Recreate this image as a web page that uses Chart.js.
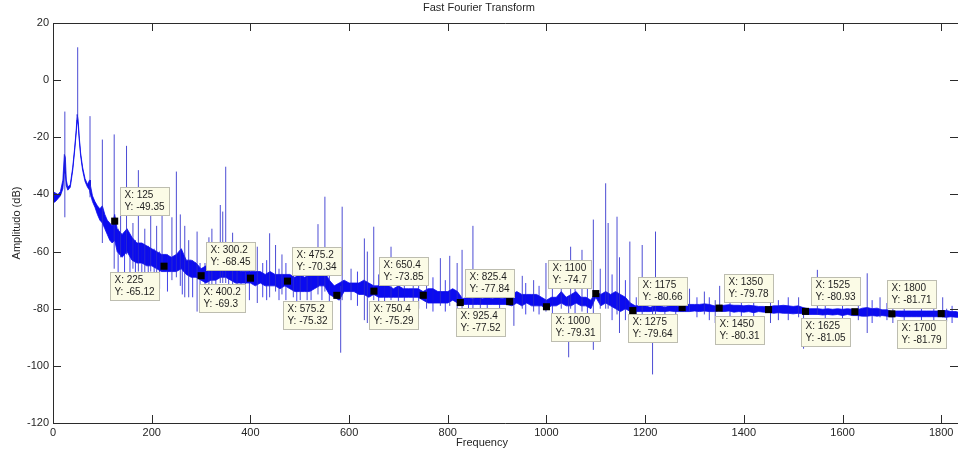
<!DOCTYPE html>
<html>
<head>
<meta charset="utf-8">
<title>Fast Fourier Transform</title>
<script src="https://cdn.jsdelivr.net/npm/chart.js@4.4.1/dist/chart.umd.min.js"></script>
<style>
  html, body { margin: 0; padding: 0; background: #fff; }
  #wrap { width: 958px; height: 454px; position: relative; }
</style>
</head>
<body>
<div id="wrap"><canvas id="chartFFT"></canvas></div>
<script>
// Ejes
const X_TICKS = [0, 200, 400, 600, 800, 1000, 1200, 1400, 1600, 1800];
const Y_TICKS = [-120, -100, -80, -60, -40, -20, 0, 20];
const X_MAX = 1834;

// Espectro: banda de ruido (borde superior / inferior) en dB
const bandFreq = [
  0, 5, 10, 15, 20, 23, 25, 27, 30, 35, 40, 44, 47, 49, 50, 51, 53, 56, 60, 65,
  70, 74, 75, 76, 80, 85, 90, 95, 100, 105, 110, 115, 120, 125,
  130, 140, 150, 160, 170, 180, 190,
  200, 210, 220, 230, 240, 250, 260, 270, 280, 290,
  300, 310, 320, 330, 340, 350, 360, 370, 380, 390,
  400, 410, 420, 430, 440, 450, 460, 470, 480, 490,
  500, 510, 520, 530, 540, 550, 560, 570, 580, 590,
  600, 610, 620, 630, 640, 650, 660, 670, 680, 690,
  700, 710, 720, 730, 740, 750, 760, 770, 780, 790,
  800, 810, 820, 830, 840, 850, 860, 870, 880, 890,
  900, 910, 920, 930, 940, 950, 960, 970, 980, 990,
  1000, 1010, 1020, 1030, 1040, 1050, 1060, 1070, 1080, 1090,
  1100, 1110, 1120, 1130, 1140, 1150, 1160, 1170, 1180, 1190,
  1200, 1210, 1220, 1230, 1240, 1250, 1260, 1270, 1280, 1290,
  1300, 1310, 1320, 1330, 1340, 1350, 1360, 1370, 1380, 1390,
  1400, 1410, 1420, 1430, 1440, 1450, 1460, 1470, 1480, 1490,
  1500, 1510, 1520, 1530, 1540, 1550, 1560, 1570, 1580, 1590,
  1600, 1610, 1620, 1630, 1640, 1650, 1660, 1670, 1680, 1690,
  1700, 1710, 1720, 1730, 1740, 1750, 1760, 1770, 1780, 1790,
  1800, 1810, 1820, 1830, 1834
];
const bandHigh = [
  -39, -39.5, -40, -39, -35, -26, -27, -35, -37.5, -36.5, -30.5, -23.5, -17.5, -12, -12, -14, -19.5, -25.5, -30.5, -34.5,
  -36.5, -35, -35, -37, -40.5, -42.5, -44, -45, -44, -47, -49, -50, -51, -47,
  -52, -54, -52, -55, -57, -57, -58,
  -59, -60, -61, -61, -62, -61, -59, -63, -63, -64,
  -66, -65, -66, -66, -64, -64, -66, -66, -67, -67,
  -67, -67, -67, -68, -67, -68, -68, -68, -68, -69,
  -68, -69, -68, -68, -67, -67, -70, -72, -71, -70,
  -71, -71, -71, -70, -71, -72, -72, -72, -72, -73,
  -72, -73, -73, -73, -73, -74, -73, -73, -74, -74,
  -74, -73, -74, -76.5, -76, -76.5, -76, -76.5, -76, -76.5,
  -76, -76.5, -76, -75, -74, -75, -75, -75, -75, -76,
  -77, -76, -76, -74, -76, -75, -74, -76, -76, -77,
  -74, -75, -74, -75, -74, -75, -76, -78, -79, -79,
  -79, -79.5, -79, -79, -79.5, -79, -79, -79.2, -78.5, -78.5,
  -78.5, -78.5, -78.3, -78.5, -79, -79, -78.8, -78.6, -78.8, -78.8,
  -79, -78.8, -79, -79.2, -79.2, -79.4, -79, -79, -78.8, -79,
  -79.2, -79, -79.6, -80, -80, -80, -80.2, -80, -80.2, -80,
  -80.2, -80, -80.2, -80.4, -79.8, -79.6, -80, -79.8, -80.4, -80.4,
  -81, -80.8, -80.8, -80.8, -80.8, -80.8, -80.8, -80.8, -80.8, -80.8,
  -80.8, -80.6, -81, -81, -81.2
];
const bandLow = [
  -43, -42.5, -41.5, -40.5, -38, -32, -33, -37, -38.5, -37.5, -31.5, -24.5, -18.5, -14, -14, -15.5, -20.5, -26.5, -31.5, -35.5,
  -37.5, -38.5, -39.5, -40, -42.5, -44.5, -47, -49, -50, -52, -54, -56, -57, -56,
  -60, -62, -60, -63, -64, -64, -65,
  -65, -66, -67, -67, -67, -67, -66, -68, -69, -69,
  -70, -71, -70, -70, -69, -69, -70, -71, -71, -71,
  -71, -72, -71, -72, -72, -72, -73, -72, -73, -74,
  -74, -74, -74, -73, -72, -72, -75, -76, -77, -74,
  -74, -74, -75, -75, -76, -75, -76, -76, -76, -76,
  -76, -76, -76, -76, -76, -77, -78, -78, -78, -78,
  -78, -77, -78, -78.5, -78.5, -78.5, -78.5, -78.5, -78.5, -78.5,
  -78.5, -78.5, -78.5, -79, -78, -79, -78, -79, -79, -79,
  -80, -79, -79, -78, -79, -79, -78, -79, -79, -80,
  -76, -79, -78, -79, -80, -81, -80, -81, -81, -81,
  -81, -81, -80.8, -81, -81, -80.8, -81, -81, -81, -81,
  -80.8, -81, -80.8, -81, -81, -80.8, -81, -80.8, -81.2, -81,
  -81.2, -81, -81.4, -81, -81.2, -81.2, -81.6, -81.4, -81.6, -81.6,
  -81.8, -81.6, -81.8, -82, -82, -82, -82.2, -82, -82.2, -82,
  -82.4, -82, -82.4, -82.4, -82.6, -82.6, -82.4, -82.6, -82.4, -82.6,
  -82.8, -82.6, -82.8, -82.8, -82.8, -82.8, -82.8, -82.8, -82.8, -82.8,
  -82.8, -83, -82.8, -83, -83
];

// Picos (armonicos) que salen de la banda
const spikeFreq = [
  24, 50, 75, 100, 124, 137, 149, 162, 173, 186, 198, 210, 221, 241, 250, 258, 267, 275, 292,
  316, 322, 339, 344, 350, 364, 373, 390, 414, 439, 451, 464, 487, 501, 515, 537, 551, 583, 586,
  604, 631, 637, 650, 685, 700, 730, 757, 785, 804, 819, 829, 851, 866, 934, 951, 974, 999,
  1030, 1045, 1049, 1072, 1095, 1109, 1120, 1125, 1143, 1148, 1169, 1194, 1215, 1221,
  1290, 1320, 1342, 1351, 1454, 1511, 1521, 1549, 1650, 1676, 1702, 1803, 1811
];
const spikeTop = [
  -11, 11.5, -12.6, -20.8, -19, -42, -23, -50, -31.5, -52, -40, -51, -46.5, -48, -32, -47, -51, -56, -53,
  -55, -52, -43.7, -46, -30.3, -53.4, -57, -62, -58.3, -53.6, -57.7, -61, -64, -63, -64, -50.4, -40.8, -72, -44.3,
  -66, -55.4, -60, -51.3, -58.3, -67, -68, -65, -62.3, -61.5, -64, -59.4, -51, -74, -74, -68.5, -70, -64,
  -70, -76, -58.3, -59.4, -48.8, -66, -36.1, -50, -47.8, -62, -56.5, -57.7, -76, -53,
  -73, -74, -77, -72, -78, -76, -80, -66.4, -67.6, -76, -80, -76, -80
];
const spikeBottom = [
  -48, -14, -41, -57, -66, -62, -61, -66, -67, -68, -67, -68, -67, -70, -69, -72, -76, -76, -81,
  -72, -72, -71, -71, -71, -72, -74, -74, -78, -76, -74, -75, -76, -77, -77, -75, -74, -95.4, -77,
  -77, -84, -85, -77, -77, -78, -78, -80, -79, -79, -80, -82, -80, -80, -86, -80, -81, -81,
  -80, -97, -80, -81, -94.4, -80, -80, -80, -82, -88.5, -82, -82, -103, -82,
  -81, -82, -85, -81, -85, -83, -94, -82, -88.5, -83, -85, -83, -84.5
];

// Rayitas cortas del ruido
const grassFreq = [
  132, 145, 156, 167, 180, 193, 205, 216, 232, 262, 283, 298,
  308, 330, 356, 381, 398, 425, 433, 458, 472, 494, 523, 545, 560,
  617, 660, 672, 712, 741, 770, 795, 842, 880, 905, 958, 985,
  1012, 1058, 1083, 1133, 1160, 1182,
  1240, 1262, 1305, 1330, 1372, 1395, 1420, 1470, 1490, 1565, 1600, 1632, 1660, 1690, 1725, 1760, 1785, 1822
];
const grassTop = [
  -52, -54, -55, -56, -57, -58, -59, -60, -61, -62, -63, -64,
  -64, -63, -62, -64, -65, -64, -63, -66, -64, -65, -64, -62, -66,
  -67, -68, -66, -68, -69, -69, -70, -72, -73, -73, -71, -72,
  -73, -70, -71, -68, -70, -76,
  -77, -77, -76, -76, -77, -77, -77, -77, -76, -78, -78, -77, -77, -78, -79, -79, -78, -79
];
const grassBottom = [
  -68, -70, -71, -72, -70, -72, -72, -73, -74, -75, -76, -79,
  -74, -75, -74, -76, -77, -76, -77, -77, -77, -78, -77, -77, -79,
  -79, -80, -79, -79, -80, -81, -81, -80, -80, -81, -82, -82,
  -83, -82, -82, -84, -84, -84,
  -83, -83, -83, -84, -83, -84, -84, -84, -84, -84, -85, -84, -85, -84, -84, -85, -85, -85
];

// Data tips
const tipX = [125, 225, 300.2, 400.2, 475.2, 575.2, 650.4, 750.4, 825.4, 925.4,
  1000, 1100, 1175, 1275, 1350, 1450, 1525, 1625, 1700, 1800];
const tipY = [-49.35, -65.12, -68.45, -69.3, -70.34, -75.32, -73.85, -75.29, -77.84, -77.52,
  -79.31, -74.7, -80.66, -79.64, -79.78, -80.31, -80.93, -81.05, -81.79, -81.71];
const tipSide = ['ur', 'll', 'ur', 'll', 'ur', 'll', 'ur', 'll', 'ur', 'll',
  'lr', 'ul', 'ur', 'll', 'ur', 'll', 'ur', 'll', 'lr', 'ul'];

const FONT = '"Liberation Sans Narrow", "Arial Narrow", "Liberation Sans", Arial, sans-serif';
const TIP_FONT = '10px "Liberation Sans", Arial, sans-serif';
const AXIS_COLOR = '#2b2b2b';
const TICK_LEN = 8;

const el = (id) => document.getElementById(id);
const toPoints = (xs, ys) => xs.map((x, i) => ({ x, y: ys[i] }));

// cada pico: de abajo a arriba y luego un hueco
const toSegments = (fs, tops, bottoms) => fs.flatMap((f, i) => [
  { x: f, y: bottoms[i] },
  { x: f, y: tops[i] },
  { x: f, y: null }
]);

// caja tipo matlab con ticks hacia dentro, etiqueta X y data tips
const matlabAxes = {
  id: 'matlabAxes',
  afterDraw(chart) {
    const { ctx, chartArea: { left, right, top, bottom }, scales: { x, y } } = chart;
    ctx.save();
    ctx.strokeStyle = AXIS_COLOR;
    ctx.lineWidth = 1;
    ctx.beginPath();
    ctx.moveTo(right, top + 0.5);
    ctx.lineTo(left + 0.5, top + 0.5);
    ctx.lineTo(left + 0.5, bottom + 0.5);
    ctx.lineTo(right, bottom + 0.5);
    X_TICKS.forEach(v => {
      const px = Math.round(x.getPixelForValue(v)) + 0.5;
      ctx.moveTo(px, bottom); ctx.lineTo(px, bottom - TICK_LEN);
      ctx.moveTo(px, top); ctx.lineTo(px, top + TICK_LEN);
    });
    Y_TICKS.forEach(v => {
      const py = Math.round(y.getPixelForValue(v)) + 0.5;
      ctx.moveTo(left, py); ctx.lineTo(left + TICK_LEN, py);
      ctx.moveTo(right, py); ctx.lineTo(right - TICK_LEN, py);
    });
    ctx.stroke();

    ctx.fillStyle = '#262626';
    ctx.font = '11px ' + FONT;
    ctx.textAlign = 'center';
    ctx.textBaseline = 'middle';
    ctx.fillText('Frequency', 482, 443);

    // data tips
    ctx.font = TIP_FONT;
    tipX.forEach((fx, i) => {
      const mx = x.getPixelForValue(fx);
      const my = y.getPixelForValue(tipY[i]);
      const lines = [`X: ${fx}`, `Y: ${tipY[i]}`];
      const w = Math.ceil(Math.max(...lines.map(t => ctx.measureText(t).width))) + 8;
      const h = 28;
      const side = tipSide[i];
      const bx = Math.round(side[1] === 'r' ? mx + 5 : mx - 5 - w) + 0.5;
      const by = Math.round(side[0] === 'u' ? my - 6 - h : my + 6) + 0.5;
      ctx.fillStyle = '#fbfbe6';
      ctx.strokeStyle = '#bdbdb0';
      ctx.fillRect(bx, by, w, h);
      ctx.strokeRect(bx, by, w, h);
      ctx.fillStyle = '#1e1e1e';
      ctx.textAlign = 'left';
      ctx.fillText(lines[0], bx + 4, by + 8);
      ctx.fillText(lines[1], bx + 4, by + 20);
    });
    ctx.restore();
  }
};

const buildChart = () => {
  const ctx = el('chartFFT').getContext('2d');
  return new Chart(ctx, {
    type: 'line',
    data: {
      datasets: [
        {
          label: 'tips',
          type: 'scatter',
          order: 0,
          data: toPoints(tipX, tipY),
          pointStyle: 'rect',
          pointRadius: 5,
          pointBackgroundColor: '#000',
          pointBorderWidth: 0,
          showLine: false
        },
        {
          label: 'band high',
          order: 3,
          data: toPoints(bandFreq, bandHigh),
          borderColor: '#0b0bef',
          backgroundColor: '#0b0bef',
          borderWidth: 0.8,
          pointRadius: 0,
          tension: 0,
          fill: '+1'
        },
        {
          label: 'band low',
          order: 3,
          data: toPoints(bandFreq, bandLow),
          borderColor: '#0b0bef',
          borderWidth: 0.8,
          pointRadius: 0,
          tension: 0,
          fill: false
        },
        {
          label: 'spikes',
          order: 1,
          data: toSegments(spikeFreq, spikeTop, spikeBottom),
          borderColor: 'rgba(45, 45, 205, 0.85)',
          borderWidth: 1,
          pointRadius: 0,
          spanGaps: false,
          fill: false
        },
        {
          label: 'grass',
          order: 2,
          data: toSegments(grassFreq, grassTop, grassBottom),
          borderColor: 'rgba(20, 20, 225, 0.8)',
          borderWidth: 1,
          pointRadius: 0,
          spanGaps: false,
          fill: false
        }
      ]
    },
    options: {
      responsive: true,
      maintainAspectRatio: false,
      animation: false,
      devicePixelRatio: 1,
      layout: { padding: 0, autoPadding: false },
      scales: {
        x: {
          type: 'linear',
          min: 0,
          max: X_MAX,
          grid: { display: false, drawTicks: false },
          border: { display: false },
          afterBuildTicks: (scale) => { scale.ticks = X_TICKS.map(v => ({ value: v })); },
          afterFit: (scale) => {
            scale.height = 31;
            scale.paddingLeft = 0;
            scale.paddingRight = 0;
          },
          ticks: {
            color: '#262626',
            font: { family: FONT, size: 11 },
            padding: 3,
            maxRotation: 0,
            autoSkip: false,
            callback: (v) => String(v)
          }
        },
        y: {
          min: -120,
          max: 20,
          grid: { display: false, drawTicks: false },
          border: { display: false },
          afterBuildTicks: (scale) => { scale.ticks = Y_TICKS.map(v => ({ value: v })); },
          afterFit: (scale) => { scale.width = 53; },
          ticks: {
            color: '#262626',
            font: { family: FONT, size: 11 },
            padding: 4,
            callback: (v) => String(v)
          },
          title: {
            display: true,
            text: 'Amplitudo (dB)',
            color: '#262626',
            font: { family: FONT, size: 11, lineHeight: 1 },
            padding: { top: 11, bottom: 0 }
          }
        }
      },
      plugins: {
        legend: { display: false },
        tooltip: { enabled: false },
        title: {
          display: true,
          text: 'Fast Fourier Transform',
          color: '#262626',
          font: { family: FONT, size: 11, weight: 'normal', lineHeight: 1 },
          padding: { top: 2, bottom: 10 }
        }
      }
    },
    plugins: [matlabAxes]
  });
};

document.addEventListener('DOMContentLoaded', () => {
  buildChart();
});
</script>
</body>
</html>
